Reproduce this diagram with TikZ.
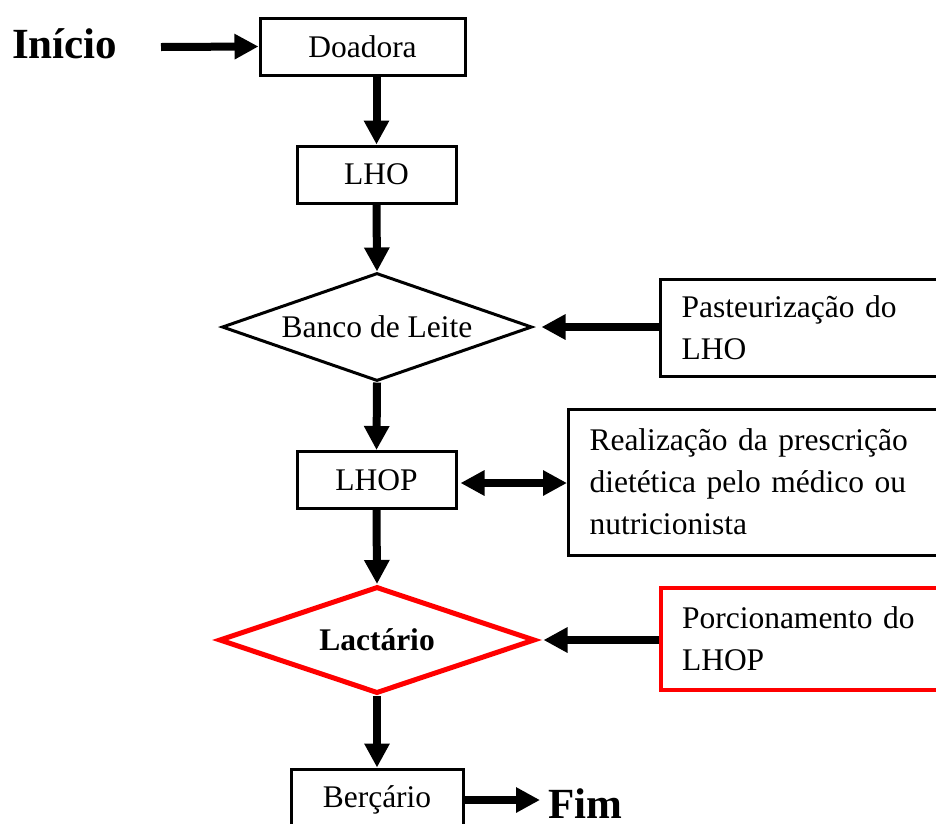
\documentclass[tikz,border=0pt]{standalone}
\usepackage{fontspec}
\setmainfont{Liberation Serif}
\usetikzlibrary{arrows.meta,shapes.geometric}
\tikzset{
  txt/.style={font=\fontsize{31.5}{42}\selectfont},
  bigtxt/.style={font=\fontsize{43}{50}\selectfont\bfseries, inner sep=0pt, anchor=base west},
  box/.style={draw, line width=3pt, inner sep=0pt, txt},
  sidebox/.style={draw, line width=3pt, anchor=west, text width=330pt, align=left, inner xsep=21pt, inner ysep=0pt, txt},
  dia/.style={draw, diamond, line width=3pt, shape aspect=2.87, inner sep=0pt, minimum width=310pt, minimum height=108pt, txt},
  flow/.style={line width=8pt, -{Triangle[length=24pt,width=24pt]}},
  dflow/.style={line width=8pt, {Triangle[length=24pt,width=24pt]}-{Triangle[length=24pt,width=24pt]}},
}
\begin{document}
\begin{tikzpicture}[x=1pt,y=-1pt]
\useasboundingbox (0,0) rectangle (936,823);
\clip (0,0) rectangle (936,823);

\node[bigtxt] (inicio) at (12,58) {Início};
\node[box, minimum width=205pt, minimum height=57pt] (doadora) at (362.5,46.5) {Doadora};
\node[box, minimum width=159pt, minimum height=57pt] (lho) at (376.5,174.5) {LHO};
\node[dia] (banco) at (377,327) {Banco de Leite};
\node[sidebox, minimum height=97pt] (past) at (659,328) {Pasteurização do\\LHO};
\node[box, minimum width=159pt, minimum height=57pt] (lhop) at (376.5,480) {LHOP};
\node[sidebox, minimum height=146pt] (real) at (567,482) {Realização da prescrição\\dietética pelo médico ou\\nutricionista};
\node[dia, draw=red, line width=5pt, minimum width=316pt, minimum height=107pt, font=\fontsize{31.5}{42}\selectfont\bfseries] (lact) at (377,640) {Lactário};
\node[sidebox, draw=red, line width=4pt, minimum height=102pt] (porc) at (659,639) {Porcionamento do\\LHOP};
\node[box, minimum width=172pt, minimum height=62pt] (berc) at (377,800) {Berçário};
\node[bigtxt] (fim) at (548,818) {Fim};

\coordinate (start) at (161,47);
\draw[flow] (start) -- (doadora.west);
\draw[flow] (lho.north |- doadora.south) -- (lho.north);
\draw[flow] (lho.south) -- (banco.north);
\draw[flow] (past.west |- banco.east) -- ([xshift=8pt]banco.east);
\draw[flow] (banco.south) -- (lhop.north);
\draw[dflow] ([xshift=3pt,yshift=-3pt]lhop.east) -- ([yshift=-3pt]real.west |- lhop.east);
\draw[flow] (lhop.south) -- (lact.north);
\draw[flow] (porc.west |- lact.east) -- ([xshift=6pt]lact.east);
\draw[flow] (lact.south) -- (berc.north);
\draw[flow] (berc.east) -- ([xshift=-8pt]fim.west |- berc.east);
\end{tikzpicture}
\end{document}
